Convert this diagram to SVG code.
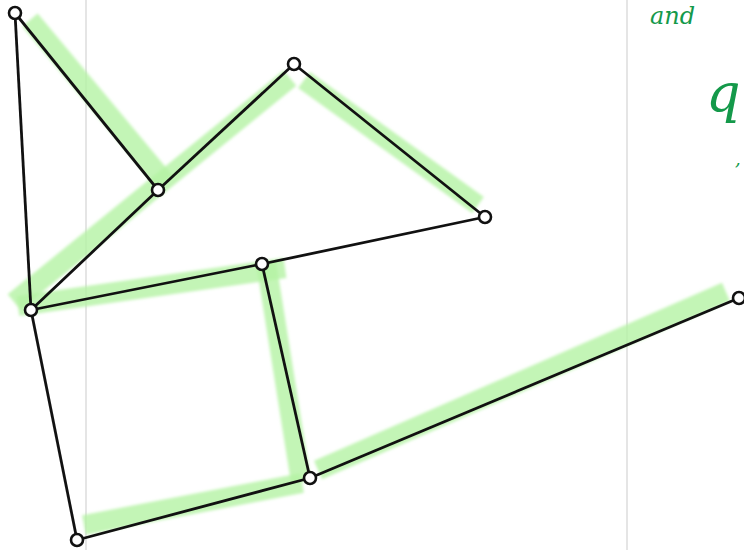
<svg xmlns="http://www.w3.org/2000/svg" width="744" height="550" viewBox="0 0 744 550">
<style>
.grid{stroke:#dcdcdc;stroke-width:1.5}
.hl{stroke:#b4f2a4;stroke-width:20;stroke-linecap:butt;fill:none;opacity:0.8}
.edge{stroke:#111;stroke-width:2.8;fill:none}
.node{fill:#fff;stroke:#111;stroke-width:2.6}
.hand{font-family:"DejaVu Serif","Liberation Serif",serif;font-style:italic;fill:#14994a}
</style>
<defs>
<filter id="soft" x="-10%" y="-10%" width="120%" height="120%"><feGaussianBlur stdDeviation="1.8"/></filter>
</defs>
<rect width="744" height="550" fill="#fff"/>
<line class="grid" x1="86" y1="0" x2="86" y2="550"/>
<line class="grid" x1="627" y1="0" x2="627" y2="550"/>
<text class="hand" x="650" y="24" font-size="24">and</text>
<text class="hand" x="706" y="112" font-size="54">q</text>
<text class="hand" x="735" y="165" font-size="18">,</text>
<g id="highlights" filter="url(#soft)">
<line class="hl" x1="30" y1="20" x2="165" y2="182"/>
<line class="hl" x1="14" y1="302" x2="290" y2="78"/>
<line class="hl" x1="304" y1="80" x2="478" y2="205"/>
<line class="hl" x1="18" y1="306" x2="285" y2="268"/>
<line class="hl" x1="266" y1="262" x2="301" y2="482"/>
<line class="hl" x1="84" y1="525" x2="302" y2="483"/>
<line class="hl" x1="318" y1="470" x2="726" y2="292"/>
</g>
<g id="connectors">
<line class="edge" x1="15" y1="13" x2="31" y2="310"/>
<line class="edge" x1="15" y1="13" x2="158" y2="190"/>
<line class="edge" x1="31" y1="310" x2="158" y2="190"/>
<line class="edge" x1="158" y1="190" x2="294" y2="64"/>
<line class="edge" x1="294" y1="64" x2="485" y2="217"/>
<line class="edge" x1="485" y1="217" x2="262" y2="264"/>
<line class="edge" x1="262" y1="264" x2="31" y2="310"/>
<line class="edge" x1="262" y1="264" x2="310" y2="478"/>
<line class="edge" x1="31" y1="310" x2="77" y2="540"/>
<line class="edge" x1="77" y1="540" x2="310" y2="478"/>
<line class="edge" x1="310" y1="478" x2="739" y2="298"/>
</g>
<g id="nA"><circle class="node" cx="15" cy="13" r="6"/></g>
<g id="nB"><circle class="node" cx="158" cy="190" r="6"/></g>
<g id="nC"><circle class="node" cx="294" cy="64" r="6"/></g>
<g id="nD"><circle class="node" cx="485" cy="217" r="6"/></g>
<g id="nE"><circle class="node" cx="31" cy="310" r="6"/></g>
<g id="nF"><circle class="node" cx="262" cy="264" r="6"/></g>
<g id="nG"><circle class="node" cx="310" cy="478" r="6"/></g>
<g id="nH"><circle class="node" cx="77" cy="540" r="6"/></g>
<g id="nI"><circle class="node" cx="739" cy="298" r="6"/></g>
</svg>
